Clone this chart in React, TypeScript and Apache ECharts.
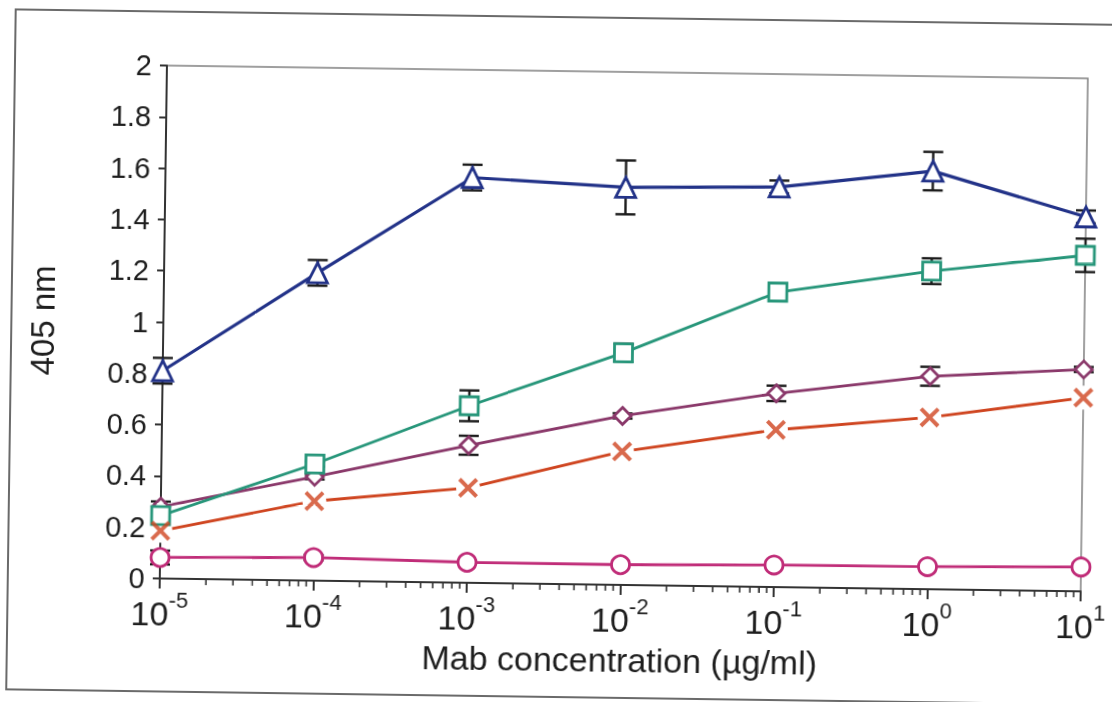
import React, { useEffect, useRef } from "react";
import * as echarts from "echarts";

// ---- data ----
const concentrations = [1e-5, 1e-4, 1e-3, 1e-2, 1e-1, 1, 10];

const triangleMean = [0.81, 1.2, 1.58, 1.55, 1.56, 1.63, 1.46];
const triangleErr = [0.05, 0.05, 0.05, 0.105, 0.025, 0.075, 0.025];

const squareMean = [0.245, 0.455, 0.69, 0.905, 1.15, 1.24, 1.31];
const squareErr = [0.01, 0.01, 0.06, 0.035, 0.01, 0.05, 0.065];

const diamondMean = [0.28, 0.405, 0.536, 0.659, 0.755, 0.83, 0.865];
const diamondErr = [0.02, 0.01, 0.037, 0.01, 0.03, 0.037, 0.01];

const crossMean = [0.186, 0.31, 0.37, 0.52, 0.613, 0.67, 0.755];

const circleMean = [0.082, 0.09, 0.08, 0.079, 0.086, 0.088, 0.095];
const circleErr = [0.027, 0.01, 0, 0, 0, 0, 0];

const minorMultipliers = [2, 3, 4, 5, 6, 7, 8, 9];
const minorDecades = [1e-5, 1e-4, 1e-3, 1e-2, 1e-1, 1];

const FONT = '"Liberation Sans", Arial, sans-serif';
const AXIS = "#333333";
const TEXT = "#1e1e1e";

const pts = (means: number[]) => concentrations.map((c, i) => [c, means[i]]);
const errs = (means: number[], e: number[]) =>
  concentrations
    .map((c, i) => [c, means[i] - e[i], means[i] + e[i], e[i]])
    .filter((d) => d[3] > 0);

const X_PATH =
  "path://M1.4,0L5,3.6L8.6,0L10,1.4L6.4,5L10,8.6L8.6,10L5,6.4L1.4,10L0,8.6L3.6,5L0,1.4Z";

export default function App() {
  const ref = useRef<HTMLDivElement>(null);

  useEffect(() => {
    const chart = echarts.init(ref.current!, null, { renderer: "svg" });

    const errorSeries = (data: number[][]) => ({
      type: "custom",
      z: 2,
      clip: false,
      encode: { x: 0, y: [1, 2] },
      data,
      renderItem: (params: any, api: any) => {
        const x = api.value(0);
        const a = api.coord([x, api.value(1)]);
        const b = api.coord([x, api.value(2)]);
        const w = 10;
        const st = { stroke: "#1c1c1c", lineWidth: 2.4 };
        return {
          type: "group",
          children: [
            { type: "line", shape: { x1: a[0], y1: a[1], x2: b[0], y2: b[1] }, style: st },
            { type: "line", shape: { x1: a[0] - w, y1: a[1], x2: a[0] + w, y2: a[1] }, style: st },
            { type: "line", shape: { x1: b[0] - w, y1: b[1], x2: b[0] + w, y2: b[1] }, style: st },
          ],
        };
      },
    });

    const lineSeries = (
      name: string,
      data: number[][],
      color: string,
      symbol: string,
      size: number,
      width: number
    ) => ({
      name,
      type: "line",
      z: 3,
      data,
      symbol,
      symbolSize: size,
      showAllSymbol: true,
      lineStyle: { color, width },
      itemStyle: { color: "#ffffff", borderColor: color, borderWidth: 2.8 },
    });

    const minorData: number[][] = [];
    minorDecades.forEach((d) =>
      minorMultipliers.forEach((m) => minorData.push([m * d, 0]))
    );

    const option: any = {
      animation: false,
      backgroundColor: "#ffffff",
      grid: {
        left: 163,
        top: 71,
        width: 930,
        height: 513,
        show: true,
        borderColor: "#808080",
        borderWidth: 1.5,
        backgroundColor: "transparent",
      },
      xAxis: {
        type: "log",
        logBase: 10,
        min: 1e-5,
        max: 10,
        splitNumber: 6,
        name: "Mab concentration (µg/ml)",
        nameLocation: "middle",
        nameGap: 58,
        nameTextStyle: { fontFamily: FONT, fontSize: 34, color: TEXT },
        axisLine: { show: true, onZero: false, lineStyle: { color: AXIS, width: 2 } },
        axisTick: { show: true, length: 10, lineStyle: { color: AXIS, width: 2 } },
        splitLine: { show: false },
        minorTick: { show: false },
        axisLabel: {
          margin: 20,
          color: TEXT,
          formatter: (v: number) => `{b|10}{s|${Math.round(Math.log10(v))}}`,
          rich: {
            b: { fontFamily: FONT, fontSize: 34, color: TEXT, lineHeight: 30 },
            s: {
              fontFamily: FONT,
              fontSize: 22,
              color: TEXT,
              lineHeight: 16,
              verticalAlign: "bottom",
              padding: [0, 0, 18, 0],
            },
          },
        },
      },
      yAxis: {
        type: "value",
        min: 0,
        max: 2,
        interval: 0.2,
        name: "405 nm",
        nameLocation: "middle",
        nameGap: 104,
        nameRotate: 90,
        nameTextStyle: { fontFamily: FONT, fontSize: 33, color: TEXT },
        axisLine: { show: true, lineStyle: { color: AXIS, width: 2 } },
        axisTick: { show: true, length: 7, lineStyle: { color: AXIS, width: 2 } },
        splitLine: { show: false },
        axisLabel: {
          margin: 15,
          fontFamily: FONT,
          fontSize: 29,
          color: TEXT,
        },
      },
      graphic: [
        {
          type: "rect",
          shape: { x: 11, y: 17, width: 1200, height: 680 },
          style: { fill: "none", stroke: "#6a6a6a", lineWidth: 2 },
          silent: true,
        },
      ],
      series: [
        {
          type: "custom",
          z: 1,
          clip: false,
          encode: { x: 0, y: 1 },
          data: minorData,
          renderItem: (params: any, api: any) => {
            const p = api.coord([api.value(0), 0]);
            return {
              type: "line",
              shape: { x1: p[0], y1: p[1], x2: p[0], y2: p[1] + 6 },
              style: { stroke: AXIS, lineWidth: 1.6 },
            };
          },
        },
        errorSeries(errs(triangleMean, triangleErr)),
        errorSeries(errs(squareMean, squareErr)),
        errorSeries(errs(diamondMean, diamondErr)),
        errorSeries(errs(circleMean, circleErr)),
        {
          name: "cross-gap",
          type: "line",
          z: 1,
          data: pts(crossMean),
          symbol: "circle",
          symbolSize: 24,
          lineStyle: { color: "#cf4520", width: 2.8 },
          itemStyle: { color: "#ffffff", borderWidth: 0 },
        },
        {
          name: "cross",
          type: "scatter",
          z: 4,
          data: pts(crossMean),
          symbol: X_PATH,
          symbolSize: 20,
          itemStyle: { color: "#cf4520" },
        },
        lineSeries("circle", pts(circleMean), "#c02c78", "circle", 18, 2.8),
        lineSeries("diamond", pts(diamondMean), "#8a386a", "diamond", 17, 2.8),
        lineSeries("square", pts(squareMean), "#27967a", "rect", 18, 2.8),
        lineSeries("triangle", pts(triangleMean), "#223288", "triangle", 20, 3.2),
      ],
    };

    chart.setOption(option);
    return () => chart.dispose();
  }, []);

  return (
    <div
      style={{
        position: "fixed",
        left: 0,
        top: 0,
        width: 1112,
        height: 702,
        background: "#ffffff",
        transform: "rotate(0.8deg)",
        transformOrigin: "50% 50%",
      }}
    >
      <div ref={ref} style={{ width: 1112, height: 702 }} />
    </div>
  );
}
